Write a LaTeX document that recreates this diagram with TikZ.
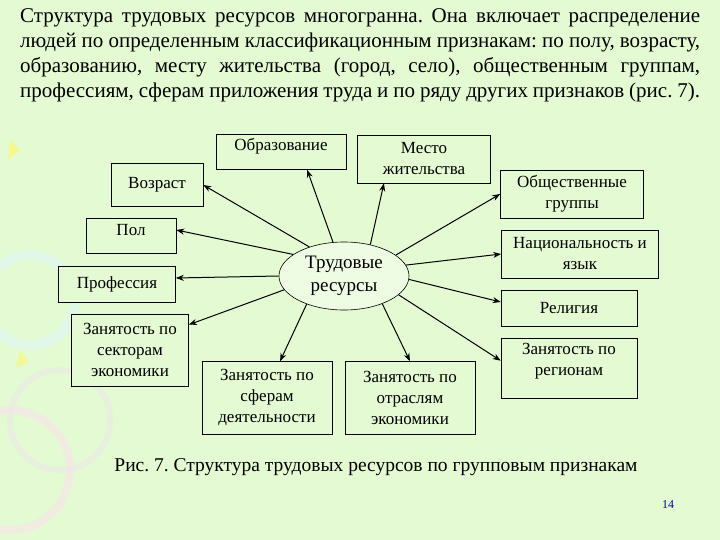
\documentclass[tikz,border=0pt]{standalone}
\usepackage{fontspec}
\setmainfont{Liberation Serif}
\usetikzlibrary{shapes.geometric,calc,arrows.meta}
\definecolor{bg}{HTML}{E4FAD2}
\frenchspacing
\begin{document}
\begin{tikzpicture}[x=1pt,y=-1pt,
  box/.style={draw=black,line width=0.6pt,fill=bg,align=center,font=\fontsize{17}{21}\selectfont,inner sep=1pt},
  arr/.style={-{Stealth[length=8pt,width=6pt]},line width=1pt}]
\fill[bg] (0,0) rectangle (720,540);
\useasboundingbox (0,0) rectangle (720,540);
% decorative pastel shapes
\draw[white!70!cyan!40,line width=10pt,opacity=0.5] (30,300) circle (45);
\draw[white!60!magenta!30,line width=8pt,opacity=0.5] (10,470) circle (60);
\draw[white!70!violet!40,line width=6pt,opacity=0.4] (60,420) circle (50);
\fill[yellow!60,opacity=0.6] (10,140)--(20,150)--(8,160)--cycle;
\fill[yellow!60,opacity=0.6] (20,350)--(28,362)--(16,368)--cycle;
% text
\node[anchor=north west,inner sep=0,text width=680pt,align=justify,font=\fontsize{21}{25}\selectfont] (txt) at (20,8)
{Структура трудовых ресурсов многогранна. Она включает распределение людей по определенным классификационным признакам: по полу, возрасту, образованию, месту жительства (город, село), общественным группам, профессиям, сферам приложения труда и по ряду других признаков (рис.~7).};
\node[draw=black,line width=0.6pt,fill=white!40!bg,ellipse,minimum width=130pt,minimum height=68pt,align=center,font=\fontsize{19}{23}\selectfont,inner sep=0] (e) at (344,276) {Трудовые\\ресурсы};
\node[box,minimum width=92pt,minimum height=43pt] (vozr) at (157,185) {Возраст};
\node[box,text depth=16pt,minimum width=130pt,minimum height=35pt] (obr) at (281,152) {Образование};
\node[box,minimum width=133pt,minimum height=48pt] (mesto) at (424,159) {Место\\жительства};
\node[box,minimum width=143pt,minimum height=48pt] (obsh) at (572,194) {Общественные\\группы};
\node[box,text depth=12pt,minimum width=90pt,minimum height=35pt] (pol) at (131,236) {Пол};
\node[box,minimum width=157pt,minimum height=48pt] (nac) at (580,254) {Национальность и\\язык};
\node[box,minimum width=117pt,minimum height=36pt] (prof) at (117,284) {Профессия};
\node[box,minimum width=136pt,minimum height=36pt] (rel) at (569,308) {Религия};
\node[box,minimum width=117pt,minimum height=72pt] (sekt) at (130,350) {Занятость по\\секторам\\экономики};
\node[box,minimum width=130pt,minimum height=73pt] (sfer) at (267,398) {Занятость по\\сферам\\деятельности};
\node[box,minimum width=130pt,minimum height=73pt] (otr) at (410,398) {Занятость по\\отраслям\\экономики};
\node[box,text depth=18pt,minimum width=136pt,minimum height=60pt] (reg) at (569,368) {Занятость по\\регионам};
% arrows
\draw[arr] (e.140) -- (vozr.east);
\draw[arr] (e.108) -- ($(obr.south west)!0.7!(obr.south east)$);
\draw[arr] (e.50) -- ($(mesto.south west)!0.2!(mesto.south east)$);
\draw[arr] (e.22) -- (obsh.west);
\draw[arr] (e.157) -- ([yshift=6pt]pol.east);
\draw[arr] (e.10) -- (nac.west);
\draw[arr] (e.180) -- ([yshift=6pt]prof.east);
\draw[arr] (e.357) -- ([yshift=6pt]rel.west);
\draw[arr] (e.193) -- ([yshift=-11pt]sekt.north east);
\draw[arr] (e.217) -- ($(sfer.north west)!0.6!(sfer.north east)$);
\draw[arr] (e.324) -- (otr.north);
\draw[arr] (e.341) -- ([yshift=-23pt]reg.north west);
\node[font=\fontsize{19.5}{23}\selectfont,inner sep=0] (cap) at (376,467) {Рис. 7. Структура трудовых ресурсов по групповым признакам};
\node[font=\fontsize{12}{14}\selectfont,text=blue!70!black,inner sep=0] (pg) at (668,505) {14};
\end{tikzpicture}
\end{document}
